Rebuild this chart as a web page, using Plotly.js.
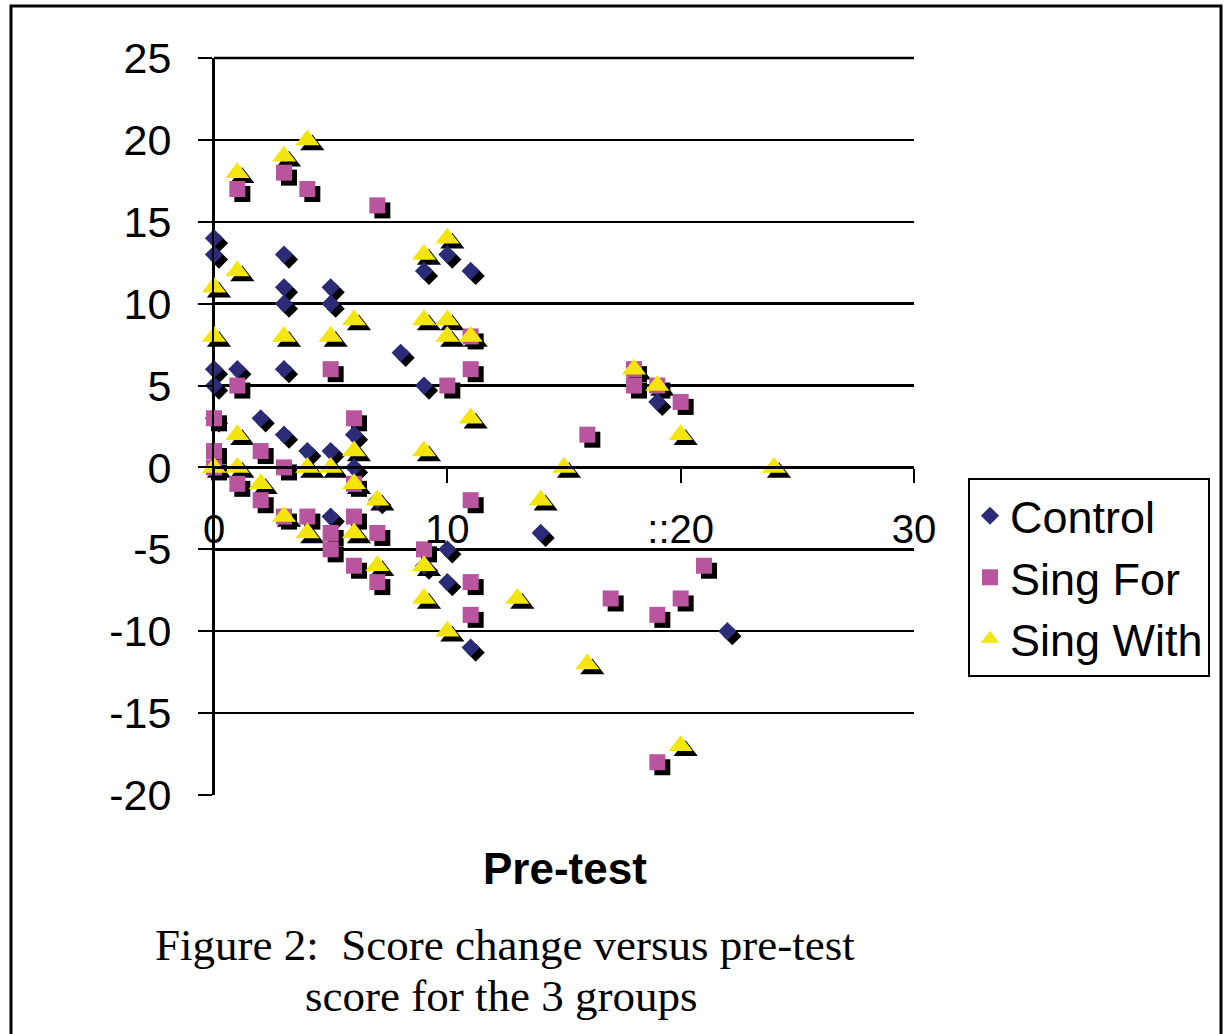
<!DOCTYPE html>
<html>
<head>
<meta charset="utf-8">
<script src="https://cdn.plot.ly/plotly-3.0.1.min.js"></script>
<style>html,body{margin:0;padding:0;background:#fff;}#chart{width:1227px;height:1034px;}</style>
</head>
<body>
<div id="chart"></div>
<script>
// ---- Data ----
var controlX = [0, 0, 3, 3, 3, 5, 5, 9, 10, 11, 8, 0, 1, 3, 0, 9, 0, 2, 3, 6, 4, 5, 6, 5, 7, 9, 10, 10, 11, 14, 19, 22];
var controlY = [14, 13, 13, 11, 10, 11, 10, 12, 13, 12, 7, 6, 6, 6, 5, 5, 3, 3, 2, 2, 1, 1, 0, -3, -2, -6, -5, -7, -11, -4, 4, -10];

var singForX = [1, 3, 4, 7, 11, 11, 10, 16, 5, 1, 0, 6, 0, 2, 0, 3, 1, 6, 2, 3, 4, 5, 5, 6, 7, 6, 7, 9, 11, 11, 11, 18, 18, 19, 20, 21, 17, 20, 19, 19];
var singForY = [17, 18, 17, 16, 8, 6, 5, 2, 6, 5, 3, 3, 1, 1, 0, 0, -1, -1, -2, -3, -3, -4, -5, -3, -4, -6, -7, -5, -2, -7, -9, 6, 5, 5, 4, -6, -8, -8, -9, -18];

var singWithX = [1, 3, 4, 1, 0, 9, 10, 9, 10, 10, 11, 11, 9, 15, 6, 0, 3, 5, 1, 6, 0, 1, 4, 5, 2, 6, 7, 3, 4, 6, 7, 9, 9, 10, 14, 13, 16, 18, 19, 20, 24, 20];
var singWithY = [18, 19, 20, 12, 11, 13, 14, 9, 9, 8, 8, 3, 1, 0, 9, 8, 8, 8, 2, 1, 0, 0, 0, 0, -1, -1, -2, -3, -4, -4, -6, -6, -8, -10, -2, -8, -12, 6, 5, 2, 0, -17];

var seriesNames = ["Control", "Sing For", "Sing With"];
var xTickVals = [0, 10, 20, 30];
var xTickText = ["0", "10", "::20", "30"];
var yTickVals = [-20, -15, -10, -5, 0, 5, 10, 15, 20, 25];
var yTickText = ["-20", "-15", "-10", "-5", "0", "5", "10", "15", "20", "25"];

// ---- Styling / layout ----
var W = 1227, H = 1034;
var xRange = [0, 30], yRange = [-20, 25];
var xDom = [214 / W, 914 / W];
var yDom = [(H - 795) / H, (H - 58) / H];
var shadowDx = 5 / W, shadowDy = 5 / H;
var zeroPos = yDom[0] + (0 - yRange[0]) / (yRange[1] - yRange[0]) * (yDom[1] - yDom[0]);

var colors = ["#2B2B78", "#B9549E", "#F5E50F"];
var symbols = ["diamond", "square", "triangle-up"];
var sizes = [14, 16, 21];
var xs = [controlX, singForX, singWithX];
var ys = [controlY, singForY, singWithY];

var traces = [];
// shadows (drawn on an invisible, slightly shifted subplot underneath)
for (var i = 0; i < 3; i++) {
  traces.push({
    type: "scatter", mode: "markers", x: xs[i], y: ys[i],
    xaxis: "x", yaxis: "y", showlegend: false, hoverinfo: "skip",
    cliponaxis: false,
    marker: {symbol: symbols[i], size: sizes[i], color: "#000000", line: {width: 0}}
  });
}
// real markers
for (var j = 0; j < 3; j++) {
  traces.push({
    type: "scatter", mode: "markers", name: seriesNames[j], x: xs[j], y: ys[j],
    xaxis: "x2", yaxis: "y2", cliponaxis: false,
    marker: {symbol: symbols[j], size: sizes[j], color: colors[j], line: {width: 0}}
  });
}

var font = "Arial, 'Liberation Sans', sans-serif";
var layout = {
  width: W, height: H,
  margin: {l: 0, r: 0, t: 0, b: 0},
  paper_bgcolor: "#ffffff", plot_bgcolor: "rgba(0,0,0,0)",
  font: {family: font, color: "#000000"},
  showlegend: true,
  xaxis: {domain: [xDom[0] + shadowDx, xDom[1] + shadowDx], range: xRange, visible: false, anchor: "y", fixedrange: true},
  yaxis: {domain: [yDom[0] - shadowDy, yDom[1] - shadowDy], range: yRange, visible: false, anchor: "x", fixedrange: true},
  xaxis2: {
    domain: xDom, range: xRange, anchor: "free", position: zeroPos,
    showline: true, linecolor: "#000000", linewidth: 2.5,
    showgrid: false, zeroline: false,
    ticks: "outside", ticklen: 14, tickwidth: 2, tickcolor: "#000000",
    tickmode: "array", tickvals: xTickVals, ticktext: xTickText,
    tickfont: {family: font, size: 40, color: "#000000"},
    ticklabelstandoff: 12
  },
  yaxis2: {
    domain: yDom, range: yRange, anchor: "x2",
    showline: true, linecolor: "#000000", linewidth: 2,
    showgrid: true, gridcolor: "#000000", gridwidth: 2.5, zeroline: false,
    ticks: "outside", ticklen: 14, tickwidth: 2, tickcolor: "#000000",
    tickmode: "array", tickvals: yTickVals, ticktext: yTickText,
    tickfont: {family: font, size: 43, color: "#000000"},
    ticklabelstandoff: 18
  },
  legend: {
    x: 968 / W, y: (H - 478) / H, xanchor: "left", yanchor: "top",
    bordercolor: "#000000", borderwidth: 2, bgcolor: "#ffffff",
    font: {family: font, size: 45, color: "#000000"}
  },
  shapes: [
    {type: "rect", xref: "paper", yref: "paper",
     x0: 11 / W, x1: 1221 / W, y0: -0.02, y1: (H - 6) / H,
     line: {color: "#000000", width: 3}, fillcolor: "rgba(0,0,0,0)"},
    // top gridline at the range edge (plotly omits it)
    {type: "line", xref: "x2 domain", yref: "y2 domain", x0: 0, x1: 1, y0: 1, y1: 1,
     line: {color: "#000000", width: 2.5}, layer: "below"},
    // solid y axis line along the left edge of the plot, under the markers
    {type: "line", xref: "x2 domain", yref: "y2 domain", x0: 0, x1: 0, y0: 0, y1: 1,
     line: {color: "#000000", width: 2}, layer: "below"}
  ],
  annotations: [
    {text: "<b>Pre-test</b>", xref: "paper", yref: "paper", x: 565 / W, y: (H - 868) / H,
     xanchor: "center", yanchor: "middle", showarrow: false,
     font: {family: font, size: 44, color: "#000000"}},
    {text: "Figure 2:\u00a0 Score change versus pre-test", xref: "paper", yref: "paper",
     x: 505 / W, y: (H - 945) / H, xanchor: "center", yanchor: "middle", showarrow: false,
     font: {family: "'Times New Roman', 'Liberation Serif', serif", size: 45, color: "#000000"}},
    {text: "score for the 3 groups", xref: "paper", yref: "paper",
     x: 501 / W, y: (H - 996) / H, xanchor: "center", yanchor: "middle", showarrow: false,
     font: {family: "'Times New Roman', 'Liberation Serif', serif", size: 45, color: "#000000"}}
  ]
};

Plotly.newPlot("chart", traces, layout, {displayModeBar: false, staticPlot: true});
</script>
</body>
</html>
